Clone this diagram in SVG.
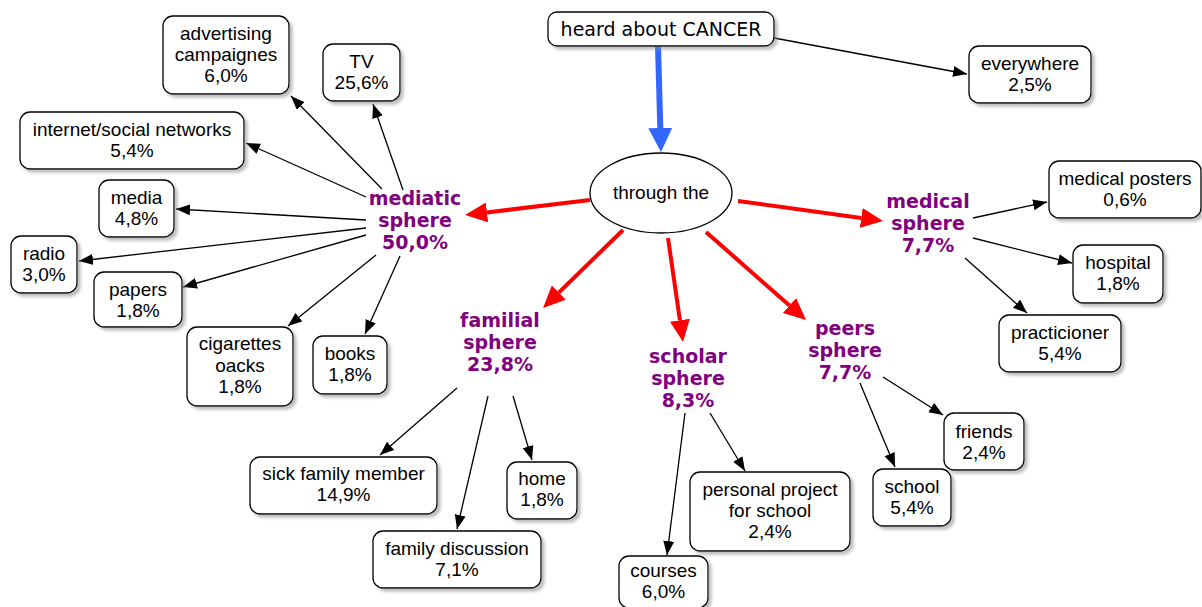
<svg xmlns="http://www.w3.org/2000/svg" width="1202" height="607" viewBox="0 0 1202 607">
<defs>
<filter id="sh" x="-10%" y="-10%" width="130%" height="140%"><feDropShadow dx="3" dy="3" stdDeviation="1.5" flood-color="#888" flood-opacity="0.55"/></filter>
<marker id="ab" markerUnits="userSpaceOnUse" markerWidth="16" markerHeight="12" refX="14" refY="5.5" orient="auto"><path d="M0,0 L14,5.5 L0,11 z" fill="#000"/></marker>
<marker id="ar" markerUnits="userSpaceOnUse" markerWidth="24" markerHeight="22" refX="0" refY="10" orient="auto"><path d="M0,0 L22,10 L0,20 z" fill="#f00"/></marker>
<marker id="abl" markerUnits="userSpaceOnUse" markerWidth="26" markerHeight="26" refX="0" refY="12" orient="auto"><path d="M0,0 L24,12 L0,24 z" fill="#3366ff"/></marker>
<style>
.box{fill:#fff;stroke:#000;stroke-width:1.3;filter:url(#sh)}
.t{font-family:"Liberation Sans",Arial,sans-serif;font-size:19px;fill:#000;text-anchor:middle}
.s{font-family:"DejaVu Sans",Verdana,sans-serif;font-size:19px;font-weight:bold;fill:#800080;text-anchor:middle}
.cb{stroke:#000;stroke-width:1.3;fill:none;marker-end:url(#ab)}
.cr{stroke:#f00;stroke-width:4;fill:none;marker-end:url(#ar)}
.cbl{stroke:#3366ff;stroke-width:6;fill:none;marker-end:url(#abl)}
</style>
</defs>
<rect width="1202" height="607" fill="#fff"/>
<g id="connectors">
<line class="cbl" x1="658" y1="46" x2="660.3" y2="128"/>
<line class="cr" x1="590" y1="200" x2="487" y2="212.4"/>
<line class="cr" x1="623" y1="230" x2="558.8" y2="292.6"/>
<line class="cr" x1="668" y1="238" x2="679.9" y2="320.2"/>
<line class="cr" x1="706" y1="232" x2="789.5" y2="305.5"/>
<line class="cr" x1="738" y1="201" x2="861.2" y2="218"/>
<line class="cb" x1="774" y1="38" x2="967" y2="74"/>
<line class="cb" x1="382" y1="189" x2="291" y2="96"/>
<line class="cb" x1="403" y1="190" x2="373" y2="104"/>
<line class="cb" x1="366" y1="197" x2="246" y2="143"/>
<line class="cb" x1="366" y1="220" x2="176" y2="209"/>
<line class="cb" x1="366" y1="228" x2="79" y2="261"/>
<line class="cb" x1="366" y1="235" x2="183" y2="287"/>
<line class="cb" x1="376" y1="255" x2="288" y2="326"/>
<line class="cb" x1="400" y1="256" x2="365" y2="334"/>
<line class="cb" x1="457" y1="388" x2="380" y2="455"/>
<line class="cb" x1="488" y1="396" x2="457" y2="529"/>
<line class="cb" x1="513" y1="396" x2="532" y2="460"/>
<line class="cb" x1="685" y1="413" x2="667" y2="555"/>
<line class="cb" x1="710" y1="413" x2="745" y2="471"/>
<line class="cb" x1="860" y1="383" x2="895" y2="467"/>
<line class="cb" x1="883" y1="377" x2="943" y2="415"/>
<line class="cb" x1="973" y1="218" x2="1047" y2="202"/>
<line class="cb" x1="973" y1="238" x2="1072" y2="263"/>
<line class="cb" x1="965" y1="258" x2="1027" y2="313"/>
</g>
<g id="heard"><rect class="box" x="548" y="12" width="226" height="34" rx="9"/><text x="661" y="36" style="font-family:'DejaVu Sans',Verdana,sans-serif;font-size:19px;fill:#000;text-anchor:middle">heard about CANCER</text></g>
<g id="through"><ellipse cx="661" cy="193" rx="71" ry="40" fill="#fff" stroke="#000" stroke-width="1.3"/><text class="t" x="661" y="199">through the</text></g>
<g id="everywhere"><rect class="box" x="969" y="46" width="122" height="57" rx="10"/><text class="t" x="1030" y="70">everywhere</text><text class="t" x="1030" y="91">2,5%</text></g>
<g id="mediatic"><text class="s" x="415" y="205">mediatic</text><text class="s" x="415" y="227">sphere</text><text class="s" x="415" y="249">50,0%</text></g>
<g id="medical"><text class="s" x="928" y="208">medical</text><text class="s" x="928" y="230">sphere</text><text class="s" x="928" y="252">7,7%</text></g>
<g id="familial"><text class="s" x="500" y="327">familial</text><text class="s" x="500" y="349">sphere</text><text class="s" x="500" y="371">23,8%</text></g>
<g id="scholar"><text class="s" x="688" y="363">scholar</text><text class="s" x="688" y="385">sphere</text><text class="s" x="688" y="407">8,3%</text></g>
<g id="peers"><text class="s" x="845" y="335">peers</text><text class="s" x="845" y="357">sphere</text><text class="s" x="845" y="379">7,7%</text></g>
<g id="advertising"><rect class="box" x="163" y="16" width="126" height="78" rx="10"/><text class="t" x="226" y="40">advertising</text><text class="t" x="226" y="61">campaignes</text><text class="t" x="226" y="82">6,0%</text></g>
<g id="tv"><rect class="box" x="323" y="44" width="77" height="57" rx="10"/><text class="t" x="361.5" y="68">TV</text><text class="t" x="361.5" y="89">25,6%</text></g>
<g id="internet"><rect class="box" x="20" y="112" width="224" height="57" rx="10"/><text class="t" x="132" y="136">internet/social networks</text><text class="t" x="132" y="157">5,4%</text></g>
<g id="media"><rect class="box" x="99" y="180" width="75" height="57" rx="10"/><text class="t" x="136.5" y="204">media</text><text class="t" x="136.5" y="225">4,8%</text></g>
<g id="radio"><rect class="box" x="11" y="236" width="66" height="57" rx="10"/><text class="t" x="44" y="260">radio</text><text class="t" x="44" y="281">3,0%</text></g>
<g id="papers"><rect class="box" x="94" y="272" width="88" height="55" rx="10"/><text class="t" x="138" y="296">papers</text><text class="t" x="138" y="317">1,8%</text></g>
<g id="cigarettes"><rect class="box" x="187" y="327" width="106" height="79" rx="10"/><text class="t" x="240" y="350">cigarettes</text><text class="t" x="240" y="372">oacks</text><text class="t" x="240" y="393">1,8%</text></g>
<g id="books"><rect class="box" x="313" y="336" width="74" height="58" rx="10"/><text class="t" x="350" y="360">books</text><text class="t" x="350" y="381">1,8%</text></g>
<g id="sick"><rect class="box" x="250" y="457" width="187" height="57" rx="10"/><text class="t" x="343.5" y="480">sick family member</text><text class="t" x="343.5" y="501">14,9%</text></g>
<g id="home"><rect class="box" x="507" y="462" width="70" height="57" rx="10"/><text class="t" x="542" y="485">home</text><text class="t" x="542" y="506">1,8%</text></g>
<g id="discussion"><rect class="box" x="373" y="531" width="168" height="57" rx="10"/><text class="t" x="457" y="555">family discussion</text><text class="t" x="457" y="576">7,1%</text></g>
<g id="courses"><rect class="box" x="619" y="556" width="89" height="52" rx="10"/><text class="t" x="663.5" y="577">courses</text><text class="t" x="663.5" y="598">6,0%</text></g>
<g id="project"><rect class="box" x="690" y="472" width="160" height="79" rx="10"/><text class="t" x="770" y="496">personal project</text><text class="t" x="770" y="517">for school</text><text class="t" x="770" y="538">2,4%</text></g>
<g id="school"><rect class="box" x="873" y="469" width="78" height="57" rx="10"/><text class="t" x="912" y="493">school</text><text class="t" x="912" y="514">5,4%</text></g>
<g id="friends"><rect class="box" x="944" y="413" width="80" height="57" rx="10"/><text class="t" x="984" y="438">friends</text><text class="t" x="984" y="459">2,4%</text></g>
<g id="posters"><rect class="box" x="1049" y="161" width="152" height="57" rx="10"/><text class="t" x="1125" y="185">medical posters</text><text class="t" x="1125" y="206">0,6%</text></g>
<g id="hospital"><rect class="box" x="1073" y="245" width="90" height="58" rx="10"/><text class="t" x="1118" y="269">hospital</text><text class="t" x="1118" y="290">1,8%</text></g>
<g id="practicioner"><rect class="box" x="999" y="315" width="122" height="57" rx="10"/><text class="t" x="1060" y="339">practicioner</text><text class="t" x="1060" y="360">5,4%</text></g>
</svg>
